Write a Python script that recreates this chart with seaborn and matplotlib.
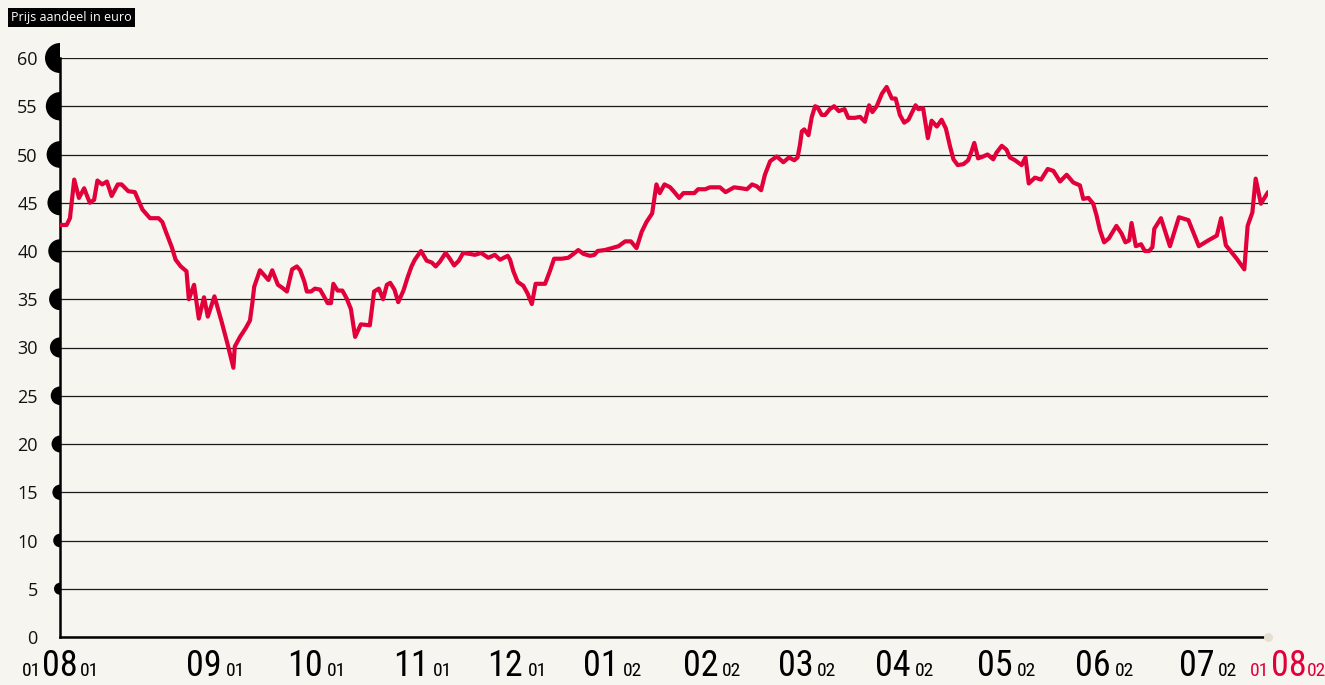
import numpy as np
import pandas as pd
import matplotlib.pyplot as plt
import seaborn as sns
from matplotlib import font_manager as fm
from matplotlib.markers import MarkerStyle

# ----- data (x = trading day since 1 Aug 2001) -----
day = [0.0, 1.4, 2.1, 3.0, 4.0, 5.1, 5.8, 6.3, 7.2, 7.9, 8.9, 9.9, 10.9, 12.2, 13.0, 14.4, 15.8, 17.4, 19.0,
       20.8, 21.6, 22.5, 23.6, 24.4, 25.5, 26.7, 27.2, 28.3, 29.3, 30.4, 31.2, 32.6, 34.1, 35.4, 36.6, 36.9,
       38.0, 39.2, 40.1, 40.6, 41.0, 42.2, 44.0, 44.8, 46.0, 46.9, 47.9, 49.0, 50.0, 50.7, 51.6, 52.1, 53.0,
       53.8, 54.9, 55.6, 56.5, 57.2, 57.7, 58.6, 59.6, 60.5, 61.4, 62.3, 63.5, 65.4, 66.3, 67.3, 68.2, 69.0,
       69.7, 70.6, 71.4, 72.5, 73.4, 74.2, 74.9, 76.2, 77.4, 78.5, 79.3, 80.2, 81.4, 82.3, 83.2, 84.2, 85.1,
       86.5, 87.6, 88.9, 90.4, 91.8, 92.9, 94.5, 95.0, 95.7, 96.6, 97.8, 98.7, 99.6, 100.4, 102.4, 103.4,
       104.3, 105.9, 107.3, 108.4, 109.4, 110.5, 111.9, 112.8, 113.5, 115.0, 116.5, 117.9, 119.3, 120.5,
       121.7, 122.8, 123.8, 125.0, 125.9, 126.6, 127.6, 128.8, 129.7, 130.7, 131.6, 132.6, 133.9, 134.7,
       136.2, 137.2, 138.3, 139.3, 140.5, 142.3, 143.8, 145.0, 146.1, 147.1, 148.0, 148.8, 149.9, 151.3,
       152.7, 153.9, 155.0, 155.7, 156.2, 156.6, 157.1, 158.0, 158.7, 159.4, 159.9, 160.8, 161.5, 162.5,
       163.4, 164.4, 165.6, 166.4, 167.8, 168.9, 169.9, 170.8, 171.5, 172.4, 173.5, 174.5, 175.6, 176.4,
       177.3, 178.2, 179.1, 179.9, 180.6, 181.2, 182.2, 183.2, 184.0, 185.1, 186.1, 187.0, 187.9, 188.6,
       189.5, 190.7, 191.7, 192.4, 193.0, 193.8, 194.9, 195.8, 197.0, 197.7, 198.8, 199.8, 200.5, 201.6,
       203.0, 203.8, 204.5, 205.8, 207.1, 208.5, 209.7, 211.1, 212.5, 213.9, 215.3, 216.0, 217.1, 218.1,
       218.8, 219.5, 220.4, 221.4, 223.0, 224.1, 224.9, 225.7, 226.2, 227.1, 228.2, 229.0, 229.9, 230.6,
       231.0, 232.4, 234.3, 236.2, 238.2, 240.4, 242.4, 244.2, 245.1, 246.1, 248.4, 250.0, 250.7, 251.7,
       252.4, 253.5, 255.0]
price = [42.7, 42.7, 43.4, 47.4, 45.5, 46.5, 45.6, 45.0, 45.3, 47.3, 46.9, 47.2, 45.7, 46.9, 46.9, 46.2, 46.1,
         44.3, 43.4, 43.4, 43.0, 41.8, 40.4, 39.1, 38.4, 37.9, 35.0, 36.5, 33.0, 35.2, 33.2, 35.3, 32.7, 30.3,
         27.9, 30.1, 31.1, 32.0, 32.8, 34.6, 36.3, 38.0, 37.0, 38.0, 36.5, 36.2, 35.8, 38.1, 38.4, 38.0, 36.8,
         35.8, 35.8, 36.1, 36.0, 35.4, 34.6, 34.6, 36.6, 35.9, 35.9, 35.1, 34.0, 31.1, 32.4, 32.3, 35.8, 36.1,
         35.0, 36.5, 36.7, 36.0, 34.7, 35.9, 37.3, 38.4, 39.1, 40.0, 39.0, 38.8, 38.4, 38.9, 39.8, 39.2, 38.5,
         39.0, 39.8, 39.7, 39.6, 39.8, 39.3, 39.6, 39.1, 39.5, 39.1, 37.9, 36.8, 36.4, 35.6, 34.5, 36.6, 36.6,
         37.9, 39.2, 39.2, 39.3, 39.7, 40.1, 39.7, 39.5, 39.6, 40.0, 40.1, 40.3, 40.5, 41.0, 41.0, 40.3, 42.0,
         43.0, 43.9, 46.9, 46.0, 46.9, 46.6, 46.1, 45.5, 46.0, 46.0, 46.0, 46.4, 46.4, 46.6, 46.6, 46.6, 46.1,
         46.6, 46.5, 46.4, 46.9, 46.7, 46.3, 47.9, 49.3, 49.8, 49.2, 49.7, 49.4, 49.7, 51.0, 52.4, 52.6, 52.0,
         53.9, 55.0, 54.9, 54.1, 54.1, 54.7, 55.0, 54.5, 54.7, 53.8, 53.8, 53.9, 53.4, 55.1, 54.4, 55.0, 56.3,
         57.0, 55.8, 55.8, 54.1, 53.3, 53.6, 54.4, 55.1, 54.7, 54.8, 51.7, 53.5, 52.9, 53.6, 52.7, 50.8, 49.5,
         48.9, 49.0, 49.4, 50.3, 51.2, 49.6, 49.8, 50.0, 49.5, 50.2, 50.9, 50.5, 49.7, 49.4, 48.9, 49.7, 47.0,
         47.6, 47.4, 48.5, 48.3, 47.2, 47.9, 47.1, 46.8, 45.4, 45.5, 44.9, 43.7, 42.2, 40.9, 41.3, 42.6, 41.8,
         40.9, 41.1, 42.9, 40.5, 40.7, 40.0, 40.0, 40.4, 42.3, 43.4, 40.5, 43.5, 43.2, 40.5, 41.1, 41.6, 43.4,
         40.6, 39.2, 38.1, 42.6, 44.0, 47.5, 44.9, 46.1]

month_edges = [0, 23.6, 43.3, 66.5, 88.0, 106.4, 128.1, 148.6, 168.2, 189.6, 211.3, 231.1, 255.0]
month_names = ["09", "10", "11", "12", "01", "02", "03", "04", "05", "06", "07"]
month_years = ["01", "01", "01", "01", "02", "02", "02", "02", "02", "02", "02"]
start_date = ["01", "08", "01"]
end_date = ["01", "08", "02"]
y_ticks = list(range(0, 61, 5))

df = pd.DataFrame({"day": day, "price": price})

BG = "#f7f5f0"
RED = "#e2003b"

sns.set_theme(style="white", rc={"figure.facecolor": BG, "axes.facecolor": BG})
plt.rcParams["font.family"] = ["Open Sans", "DejaVu Sans"]

# narrow face for the date labels, if one is around
names = {f.name for f in fm.fontManager.ttflist}
narrow_fam = next((n for n in ["Roboto Condensed", "Liberation Sans Narrow", "Open Sans Condensed"]
                   if n in names), None)

fig = plt.figure(figsize=(13.25, 6.85), dpi=100)
ax = fig.add_axes([60 / 1325, 48 / 685, 1208 / 1325, 579 / 685])

sns.lineplot(data=df, x="day", y="price", color=RED, lw=3.0, ax=ax, zorder=5)

ax.set_xlim(0, 255)
ax.set_ylim(0, 60)
ax.set_xlabel("")
ax.set_ylabel("")

# horizontal rules
ax.set_yticks(y_ticks)
ax.set_yticklabels([str(v) for v in y_ticks], fontsize=13, color="#111111")
ax.yaxis.grid(True, color="#1a1a1a", lw=0.9)
ax.tick_params(axis="y", length=0, pad=16)

# month boundaries
ax.set_xticks(month_edges)
ax.set_xticklabels([])
ax.tick_params(axis="x", direction="in", length=11, width=1.1, color="#111111")

for s in ["top", "right"]:
    ax.spines[s].set_visible(False)
for s in ["left", "bottom"]:
    ax.spines[s].set_color("#000000")
    ax.spines[s].set_linewidth(1.8)

# half dots on the value axis, growing towards the top
dot_px = np.linspace(12, 30, len(y_ticks) - 1)
ax.scatter([0] * (len(y_ticks) - 1), y_ticks[1:], s=(dot_px * 0.72) ** 2,
           marker=MarkerStyle("o", fillstyle="left"), color="black", lw=0, clip_on=False, zorder=6)
ax.scatter([255], [0], s=(9 * 0.72) ** 2, color="#e4e1d2", lw=0, clip_on=False, zorder=7)

# month labels under the axis
big_kw = dict(fontsize=26, color="black", va="baseline", textcoords="offset points",
              xycoords=("data", "axes fraction"))
if narrow_fam:
    big_kw["family"] = narrow_fam
small_kw = dict(big_kw, fontsize=14)
base = -28.1

for i, (m, yr) in enumerate(zip(month_names, month_years)):
    mid = (month_edges[i + 1] + month_edges[i + 2]) / 2
    ax.annotate(m, (mid, 0), xytext=(2, base), ha="right", **big_kw)
    ax.annotate(yr, (mid, 0), xytext=(5, base), ha="left", **small_kw)

# first and last day
ax.annotate(start_date[1], (0, 0), xytext=(0, base), ha="center", **big_kw)
ax.annotate(start_date[0], (0, 0), xytext=(-13.7, base), ha="right", **small_kw)
ax.annotate(start_date[2], (0, 0), xytext=(14.4, base), ha="left", **small_kw)

end_big = dict(big_kw, color=RED)
end_small = dict(small_kw, color=RED)
ax.annotate(end_date[0], (255, 0), xytext=(-13, base), ha="left", **end_small)
ax.annotate(end_date[1], (255, 0), xytext=(2.2, base), ha="left", **end_big)
ax.annotate(end_date[2], (255, 0), xytext=(28, base), ha="left", **end_small)

fig.text(11 / 1325, 1 - 17.5 / 685, "Prijs aandeel in euro", fontsize=9, color="white", va="center",
         bbox=dict(facecolor="black", edgecolor="none", boxstyle="square,pad=0.25"))

fig.savefig("out.png", dpi=100, facecolor=BG)
